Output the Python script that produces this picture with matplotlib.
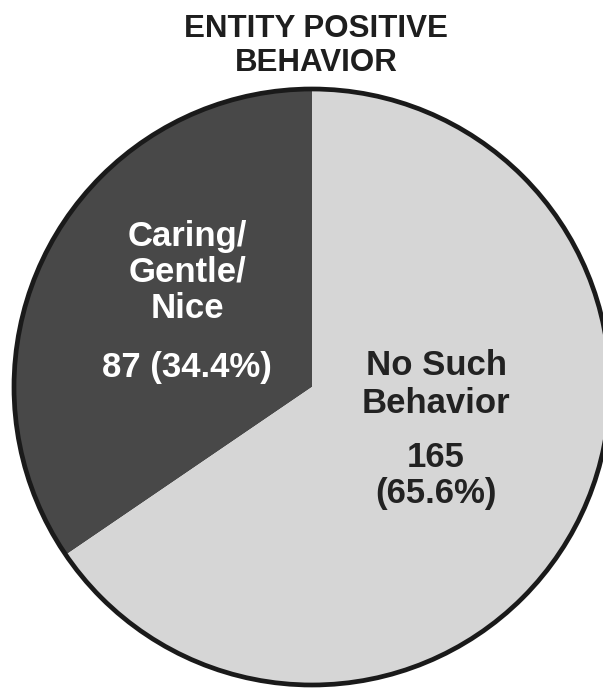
import matplotlib
matplotlib.use("Agg")
import matplotlib.pyplot as plt
from matplotlib.patches import Circle

title_lines = ["ENTITY POSITIVE", "BEHAVIOR"]
categories = ["Caring/\nGentle/\nNice", "No Such\nBehavior"]
counts = [87, 165]
percents = ["34.4", "65.6"]
colors = ["#484848", "#d6d6d6"]

W, H = 603, 690
fig = plt.figure(figsize=(W / 100, H / 100), dpi=100)
ax = fig.add_axes([0, 0, 1, 1])

cx, cy, r = 312, H - 387, 298
ax.pie(counts, colors=colors, startangle=90, counterclock=True,
       center=(cx, cy), radius=r, frame=True,
       wedgeprops=dict(edgecolor="none", linewidth=0))
ax.add_patch(Circle((cx, cy), r, fill=False, edgecolor="#1a1a1a", linewidth=3.4))
ax.set_xlim(0, W)
ax.set_ylim(0, H)
ax.set_aspect("auto")
ax.axis("off")

fam = ["Liberation Sans", "DejaVu Sans"]

# title (baselines in pixel rows from top)
for line, base in zip(title_lines, [37, 71]):
    ax.text(316, H - base, line, ha="center", va="baseline", fontsize=22.5,
            fontweight="bold", family=fam, color="#1e1e1e")

# dark slice label
dark_lines = categories[0].split("\n") + [f"{counts[0]} ({percents[0]}%)"]
for line, base in zip(dark_lines, [246, 282, 318, 377]):
    ax.text(187, H - base, line, ha="center", va="baseline", fontsize=25,
            fontweight="bold", family=fam, color="white")

# light slice label
light_lines = categories[1].split("\n") + [f"{counts[1]}", f"({percents[1]}%)"]
for line, base in zip(light_lines, [375, 413, 467, 503]):
    ax.text(436, H - base, line, ha="center", va="baseline", fontsize=25,
            fontweight="bold", family=fam, color="#222222")

fig.savefig("out.png", dpi=100, facecolor="white")
